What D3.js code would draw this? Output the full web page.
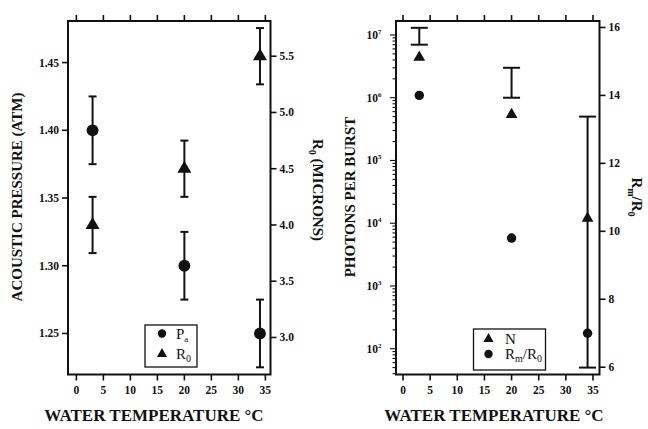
<!DOCTYPE html>
<html>
<head>
<meta charset="utf-8">
<script src="https://cdn.jsdelivr.net/npm/d3@7"></script>
<style>
  body { margin: 0; background: #fff; }
  svg text { font-family: "Liberation Serif", "DejaVu Serif", serif; fill: #111; }
  .tick-label { font-size: 11.5px; font-weight: bold; }
  .title { font-size: 15px; font-weight: bold; }
  .xtitle { font-size: 17px; font-weight: bold; }
  .legend text { font-size: 15px; }
</style>
</head>
<body>
<svg width="648" height="429"></svg>
<script>
// water temperature (deg C) for each measurement
var temps = [3, 20, 34];

// left panel
var pressure = [1.40, 1.30, 1.25];
var pressureErr = [0.025, 0.025, 0.025];
var r0 = [4.0, 4.5, 5.5];
var r0Err = [0.25, 0.25, 0.25];

// right panel
var photons = [4.4e6, 5.4e5, 1.2e4];
var photonsLo = [7.0e6, 1.0e6, 50];
var photonsHi = [1.3e7, 3.0e6, 5.0e5];
var rmR0 = [14.0, 9.8, 7.0];

var xTicks = [0, 5, 10, 15, 20, 25, 30, 35];
var pressureTicks = [1.25, 1.30, 1.35, 1.40, 1.45];
var r0Ticks = [3.0, 3.5, 4.0, 4.5, 5.0, 5.5];
var rmTicks = [6, 8, 10, 12, 14, 16];

var svg = d3.select("svg");
var ink = "#111";

function frame(x0, x1, y0, y1) {
    svg.append("rect")
        .attr("x", x0).attr("y", y0)
        .attr("width", x1 - x0).attr("height", y1 - y0)
        .attr("fill", "none").attr("stroke", ink).attr("stroke-width", 2);
}

function xAxis(x, y0, y1) {
    xTicks.forEach(function(t) {
        svg.append("line").attr("x1", x(t)).attr("x2", x(t))
            .attr("y1", y1).attr("y2", y1 + 6).attr("stroke", ink).attr("stroke-width", 1.6);
        svg.append("line").attr("x1", x(t)).attr("x2", x(t))
            .attr("y1", y0).attr("y2", y0 - 6).attr("stroke", ink).attr("stroke-width", 1.6);
        svg.append("text").attr("class", "tick-label")
            .attr("x", x(t)).attr("y", y1 + 19)
            .attr("text-anchor", "middle").text(t);
    });
}

function yTicks(y, ticks, xEdge, dir, fmt) {
    ticks.forEach(function(t) {
        svg.append("line").attr("x1", xEdge).attr("x2", xEdge + dir * 6)
            .attr("y1", y(t)).attr("y2", y(t)).attr("stroke", ink).attr("stroke-width", 1.6);
        svg.append("text").attr("class", "tick-label")
            .attr("x", xEdge + dir * 9).attr("y", y(t) + 4)
            .attr("text-anchor", dir < 0 ? "end" : "start")
            .text(fmt(t));
    });
}

function errorBars(x, y, lo, hi, capW) {
    temps.forEach(function(t, i) {
        var cx = x(t);
        svg.append("line").attr("x1", cx).attr("x2", cx)
            .attr("y1", y(lo[i])).attr("y2", y(hi[i])).attr("stroke", ink).attr("stroke-width", 2);
        [lo[i], hi[i]].forEach(function(v) {
            svg.append("line").attr("x1", cx - capW / 2).attr("x2", cx + capW / 2)
                .attr("y1", y(v)).attr("y2", y(v)).attr("stroke", ink).attr("stroke-width", 2);
        });
    });
}

function markers(x, y, vals, type, size) {
    svg.append("g").selectAll("path")
        .data(vals)
        .enter().append("path")
        .attr("transform", function(d, i) { return "translate(" + x(temps[i]) + "," + y(d) + ")"; })
        .attr("d", d3.symbol().type(type).size(size))
        .attr("fill", ink);
}

function vtitle(x, y, rot, build) {
    var t = svg.append("text").attr("class", "title")
        .attr("transform", "translate(" + x + "," + y + ") rotate(" + rot + ")")
        .attr("text-anchor", "middle");
    build(t);
}

// ---------- left panel ----------
var L = {x0: 68, x1: 270.5, y0: 21, y1: 374.5};
var xL = d3.scaleLinear().domain([-1.55, 35.95]).range([L.x0, L.x1]);
var yP = d3.scaleLinear().domain([1.2197, 1.4807]).range([L.y1, L.y0]);
var yR = d3.scaleLinear().domain([2.671, 5.813]).range([L.y1, L.y0]);

frame(L.x0, L.x1, L.y0, L.y1);
xAxis(xL, L.y0, L.y1);
yTicks(yP, pressureTicks, L.x0, -1, d3.format(".2f"));
yTicks(yR, r0Ticks, L.x1, 1, d3.format(".1f"));

errorBars(xL, yP,
    pressure.map(function(d, i) { return d - pressureErr[i]; }),
    pressure.map(function(d, i) { return d + pressureErr[i]; }), 8);
errorBars(xL, yR,
    r0.map(function(d, i) { return d - r0Err[i]; }),
    r0.map(function(d, i) { return d + r0Err[i]; }), 8);
markers(xL, yP, pressure, d3.symbolCircle, 110);
markers(xL, yR, r0, d3.symbolTriangle, 85);

vtitle(22, 197, -90, function(t) { t.text("ACOUSTIC PRESSURE (ATM)"); });
vtitle(313, 190, 90, function(t) {
    t.append("tspan").text("R");
    t.append("tspan").attr("dy", 4).style("font-size", "10px").text("0");
    t.append("tspan").attr("dy", -4).text(" (MICRONS)");
});
svg.append("text").attr("class", "xtitle").attr("x", 154).attr("y", 421)
    .attr("text-anchor", "middle").text("WATER TEMPERATURE \u00B0C");

// left legend
var lg = svg.append("g").attr("class", "legend");
lg.append("rect").attr("x", 145).attr("y", 325).attr("width", 52).attr("height", 42)
    .attr("fill", "#fff").attr("stroke", ink).attr("stroke-width", 1.3);
lg.append("path").attr("transform", "translate(162,333.5)")
    .attr("d", d3.symbol().type(d3.symbolCircle).size(55)).attr("fill", ink);
lg.append("path").attr("transform", "translate(162,354)")
    .attr("d", d3.symbol().type(d3.symbolTriangle).size(45)).attr("fill", ink);
var lt1 = lg.append("text").attr("x", 176).attr("y", 339);
lt1.append("tspan").text("P");
lt1.append("tspan").attr("dy", 3).style("font-size", "9px").text("a");
var lt2 = lg.append("text").attr("x", 176).attr("y", 359);
lt2.append("tspan").text("R");
lt2.append("tspan").attr("dy", 3).style("font-size", "10px").text("0");

// ---------- right panel ----------
var R = {x0: 396, x1: 599.5, y0: 21, y1: 374.5};
var xR = d3.scaleLinear().domain([-1.29, 36.2]).range([R.x0, R.x1]);
var yN = d3.scaleLog().domain([38.8, 1.67e7]).range([R.y1, R.y0]);
var yM = d3.scaleLinear().domain([5.785, 16.19]).range([R.y1, R.y0]);

frame(R.x0, R.x1, R.y0, R.y1);
xAxis(xR, R.y0, R.y1);
yTicks(yM, rmTicks, R.x1, 1, d3.format("d"));

// log axis: minor ticks for every multiple, longer at each decade
yN.ticks().forEach(function(t) {
    var e = Math.log10(t);
    var major = Math.abs(e - Math.round(e)) < 1e-9;
    svg.append("line").attr("x1", R.x0).attr("x2", R.x0 - (major ? 6 : 3.5))
        .attr("y1", yN(t)).attr("y2", yN(t)).attr("stroke", ink).attr("stroke-width", 1.1);
    if (major) {
        var lbl = svg.append("text").attr("class", "tick-label")
            .attr("x", R.x0 - 22).attr("y", yN(t) + 4).attr("text-anchor", "middle");
        lbl.append("tspan").text("10");
        lbl.append("tspan").attr("dy", -5).style("font-size", "7px").text(Math.round(e));
    }
});

errorBars(xR, yN, photonsLo, photonsHi, 17);
markers(xR, yN, photons, d3.symbolTriangle, 60);
markers(xR, yM, rmR0, d3.symbolCircle, 70);

vtitle(355, 197, -90, function(t) { t.text("PHOTONS PER BURST"); });
vtitle(632, 197, 90, function(t) {
    t.append("tspan").text("R");
    t.append("tspan").attr("dy", 4).style("font-size", "10px").text("m");
    t.append("tspan").attr("dy", -4).text("/R");
    t.append("tspan").attr("dy", 4).style("font-size", "10px").text("0");
});
svg.append("text").attr("class", "xtitle").attr("x", 494).attr("y", 421)
    .attr("text-anchor", "middle").text("WATER TEMPERATURE \u00B0C");

// right legend
var rg = svg.append("g").attr("class", "legend");
rg.append("rect").attr("x", 473.5).attr("y", 329).attr("width", 72).attr("height", 41)
    .attr("fill", "#fff").attr("stroke", ink).attr("stroke-width", 1.3);
rg.append("path").attr("transform", "translate(488.5,339)")
    .attr("d", d3.symbol().type(d3.symbolTriangle).size(45)).attr("fill", ink);
rg.append("path").attr("transform", "translate(488.5,354)")
    .attr("d", d3.symbol().type(d3.symbolCircle).size(55)).attr("fill", ink);
rg.append("text").attr("x", 505).attr("y", 344).text("N");
var rt2 = rg.append("text").attr("x", 505).attr("y", 359);
rt2.append("tspan").text("R");
rt2.append("tspan").attr("dy", 3).style("font-size", "10px").text("m");
rt2.append("tspan").attr("dy", -3).text("/R");
rt2.append("tspan").attr("dy", 3).style("font-size", "10px").text("0");
</script>
</body>
</html>
